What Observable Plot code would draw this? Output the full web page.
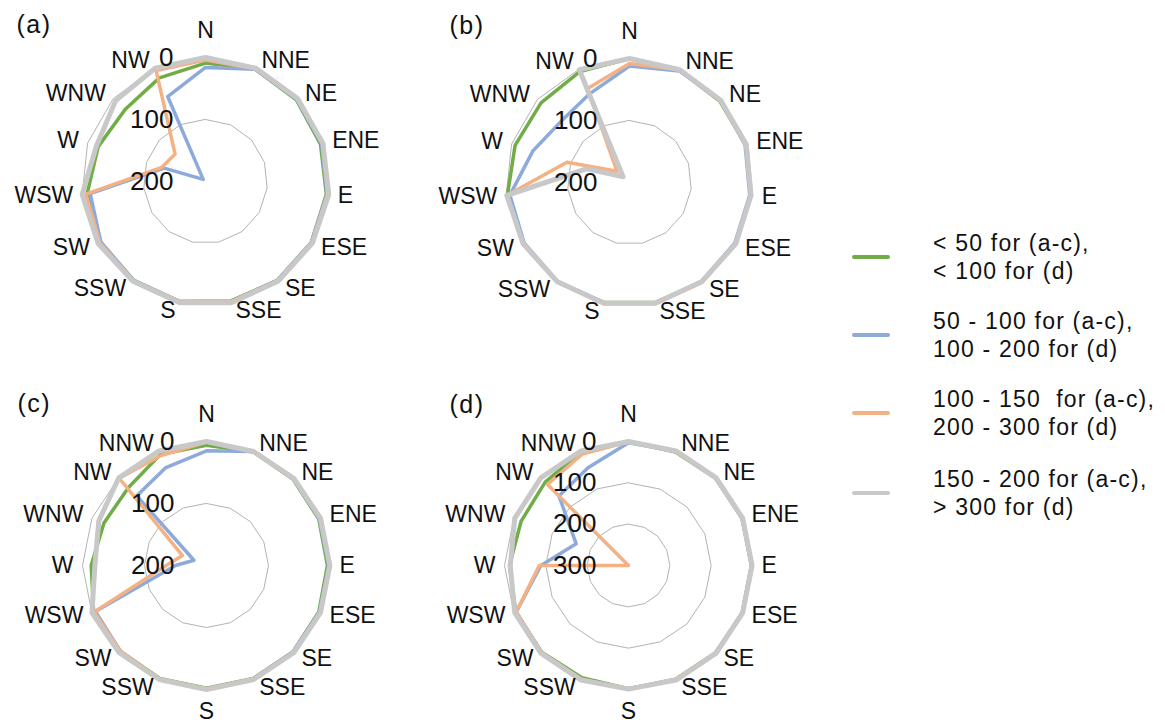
<!DOCTYPE html>
<html>
<head>
<meta charset="utf-8">
<script src="https://cdn.jsdelivr.net/npm/d3@7"></script>
<script src="https://cdn.jsdelivr.net/npm/@observablehq/plot@0.6"></script>
<style>
  body { margin: 0; background: #fff; font-family: "Liberation Sans", Arial, sans-serif; }
  #wrap { position: relative; width: 1165px; height: 726px; overflow: hidden; background: #fff; }
  .panel { position: absolute; }
  .legend-swatch { position: absolute; width: 38px; height: 4px; border-radius: 2px; }
  .legend-text { position: absolute; font-size: 23px; line-height: 28.5px; letter-spacing: 1.2px; white-space: pre; color: #111; }
</style>
</head>
<body>
<div id="wrap"></div>
<script>
// ---------------- data ----------------
const dirs15 = ["N","NNE","NE","ENE","E","ESE","SE","SSE","S","SSW","SW","WSW","W","WNW","NW"];
const dirs16 = ["N","NNE","NE","ENE","E","ESE","SE","SSE","S","SSW","SW","WSW","W","WNW","NW","NNW"];

const seriesNames = ["s1", "s2", "s3", "s4"];
const seriesColors = ["#70ad47", "#8eaadb", "#f4b183", "#c8c8c8"];
const legendLines = [
  ["< 50 for (a-c),", "< 100 for (d)"],
  ["50 - 100 for (a-c),", "100 - 200 for (d)"],
  ["100 - 150  for (a-c),", "200 - 300 for (d)"],
  ["150 - 200 for (a-c),", "> 300 for (d)"]
];

const panelTitles = ["(a)", "(b)", "(c)", "(d)"];
const panelMax = [200, 200, 200, 300];
const ticksABC = [0, 100, 200];
const ticksD = [0, 100, 200, 300];

// panel (a) – 15 directions
const a_green  = [9, 2, 3, 5, 4, 3, 3, 3, 2, 3, 4, 8, 18, 26, 17];
const a_blue   = [16, 2, 2, 3, 3, 3, 3, 2, 2, 3, 5, 13, 130, 195, 50];
const a_orange = [4, 1, 1, 0, 2, 2, 2, 2, 2, 2, 3, 6, 126, 134, 4];
const a_gray   = [0, 0, 0, 1, 0, 1, 1, 0, 0, 1, 0, 0, 15, 5, 0];

// panel (b) – 15 directions
const b_green  = [0, 2, 4, 3, 3, 3, 2, 2, 2, 2, 3, 2, 6, 8, 4];
const b_blue   = [12, 3, 2, 4, 5, 4, 3, 1, 2, 3, 4, 6, 36, 52, 43];
const b_orange = [8, 1, 2, 1, 3, 2, 1, 0, 0, 2, 2, 1, 94, 173, 34];
const b_gray   = [0, 1, 2, 2, 3, 2, 2, 1, 1, 2, 2, 1, 128, 186, 1];

// panel (c) – 16 directions
const c_green  = [6, 2, 3, 4, 5, 4, 3, 3, 2, 3, 4, 3, 14, 21, 22, 6];
const c_blue   = [15, 1, 2, 3, 3, 3, 3, 2, 0, 2, 4, 6, 150, 178, 41, 29];
const c_orange = [1, 1, 2, 0, 2, 2, 1, 2, 1, 2, 4, 4, 135, 158, 1, 8];
const c_gray   = [0, 1, 1, 1, 1, 1, 1, 1, 0, 1, 1, 0, 20, 12, 0, 0];

// panel (d) – 16 directions
const d_green  = [0, 3, 2, 2, 3, 2, 2, 2, 2, 6, 3, 5, 12, 19, 15, 2];
const d_blue   = [3, 1, 1, 3, 2, 2, 1, 1, 2, 2, 2, 6, 88, 163, 62, 44];
const d_orange = [1, 1, 1, 2, 2, 2, 1, 2, 1, 2, 2, 6, 84, 300, 23, 8];
const d_gray   = [0, 0, 0, 1, 1, 1, 0, 0, 1, 0, 0, 2, 14, 2, 0, 0];

// ---------------- layout ----------------
const K = 124;          // pixels per unit radius (value 0 ring)
const PW = 423, PH = 342;
const CX = 205, CY = 181;
const panelPos = [[0, 0], [424, 1], [1, 384], [423, 384]];
const titleDx = [16, 25, 16, 26];
const titleDy = [15, 15, 10, 11];

function makePanel(idx, dirs, max, ticks, seriesVals) {
  const n = dirs.length;
  const ang = i => 2 * Math.PI * i / n;
  const pt = (i, v) => {
    const r = (max - v) / max;
    return { x: r * Math.sin(ang(i)), y: r * Math.cos(ang(i)) };
  };

  const grid = ticks.filter(t => t < max)
    .flatMap(t => dirs.map((d, i) => ({ ...pt(i, t), t })));

  const lineData = seriesVals.map((vals, si) =>
    vals.map((v, i) => ({ ...pt(i, v), series: seriesNames[si] })));

  const dirLabels = dirs.map((d, i) => {
    const s = Math.sin(ang(i)), c = Math.cos(ang(i));
    let anchor, dxp, dyp;
    if (Math.abs(s) < 0.15) {
      anchor = "middle"; dxp = 0; dyp = c > 0 ? 27 : -22;
    } else {
      anchor = s > 0 ? "start" : "end";
      dxp = Math.sign(s) * (3 + 6 * Math.abs(s));
      dyp = 8 * c;
    }
    return { x: s + dxp / K, y: c + dyp / K, label: d, anchor };
  });

  const valLabels = ticks.map(t => ({ x: 0, y: (max - t) / max, label: String(t) }));

  const widths = [3.5, 3.5, 3.5, 5];
  const lineMarks = lineData.map((data, si) =>
    Plot.line(data, {
      x: "x", y: "y", stroke: "series", curve: "linear-closed",
      strokeWidth: widths[si], strokeLinejoin: "round", strokeLinecap: "round"
    }));

  const textMarks = ["start", "middle", "end"].map(a =>
    Plot.text(dirLabels.filter(d => d.anchor === a), {
      x: "x", y: "y", text: "label", textAnchor: a, fontSize: 23, fill: "#111"
    }));

  return Plot.plot({
    width: PW, height: PH, margin: 0,
    x: { domain: [-CX / K, (PW - CX) / K], axis: null },
    y: { domain: [-(PH - CY) / K, CY / K], axis: null },
    color: { domain: seriesNames, range: seriesColors },
    style: { fontFamily: "'Liberation Sans', Arial, sans-serif", background: "transparent", overflow: "visible" },
    marks: [
      Plot.line(grid, { x: "x", y: "y", z: "t", curve: "linear-closed", stroke: "#b3b3b3", strokeWidth: 1 }),
      ...lineMarks,
      ...textMarks,
      Plot.text(valLabels, { x: "x", y: "y", text: "label", textAnchor: "end", dx: -32, fontSize: 26, fill: "#111" }),
      Plot.text([panelTitles[idx]], {
        frameAnchor: "top-left", dx: titleDx[idx], dy: titleDy[idx], lineAnchor: "top",
        fontSize: 25, fill: "#111", text: d => d
      })
    ]
  });
}

const wrap = document.getElementById("wrap");
const panels = [
  [dirs15, [a_green, a_blue, a_orange, a_gray], ticksABC],
  [dirs15, [b_green, b_blue, b_orange, b_gray], ticksABC],
  [dirs16, [c_green, c_blue, c_orange, c_gray], ticksABC],
  [dirs16, [d_green, d_blue, d_orange, d_gray], ticksD]
];
panels.forEach(([dirs, vals, ticks], idx) => {
  const div = document.createElement("div");
  div.className = "panel";
  div.style.left = panelPos[idx][0] + "px";
  div.style.top = panelPos[idx][1] + "px";
  const svg = makePanel(idx, dirs, panelMax[idx], ticks, vals);
  svg.querySelectorAll("text").forEach(t => { if (t.textContent.startsWith("(")) t.setAttribute("letter-spacing", "1.5"); });
  div.appendChild(svg);
  wrap.appendChild(div);
});

// legend
const swatchY = [257, 335, 413, 493];
legendLines.forEach((lines, i) => {
  const sw = document.createElement("div");
  sw.className = "legend-swatch";
  sw.style.left = "852px";
  sw.style.top = (swatchY[i] - 2) + "px";
  sw.style.background = seriesColors[i];
  wrap.appendChild(sw);
  const tx = document.createElement("div");
  tx.className = "legend-text";
  tx.style.left = "933px";
  tx.style.top = (swatchY[i] - 28.5) + "px";
  tx.textContent = lines.join("\n");
  wrap.appendChild(tx);
});
</script>
</body>
</html>
